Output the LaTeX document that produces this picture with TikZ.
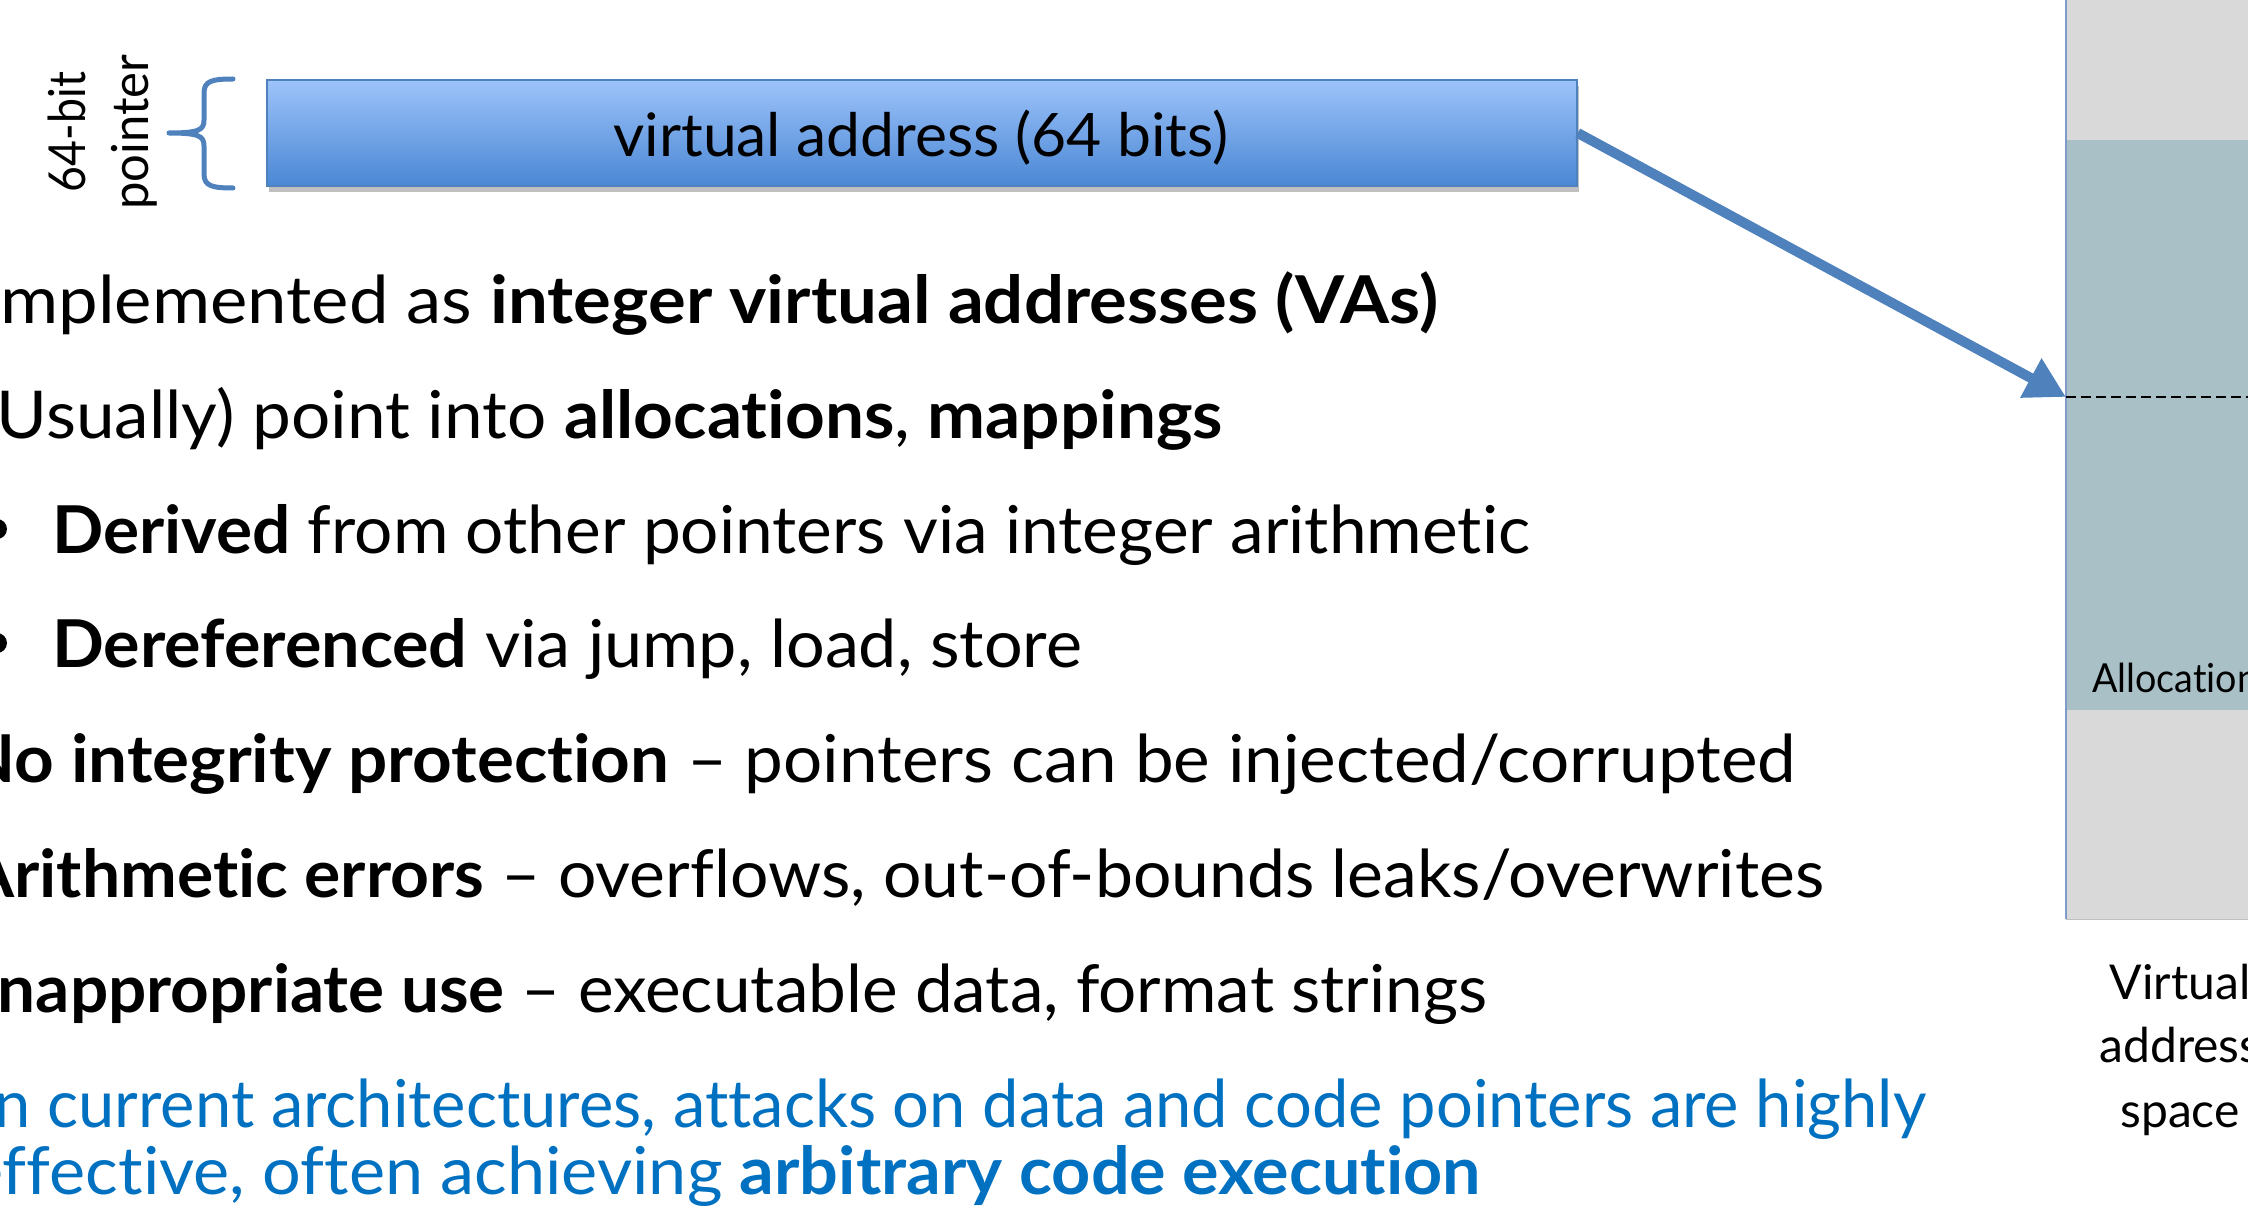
\documentclass[tikz,border=0pt]{standalone}
\usepackage{fontspec}
\setmainfont{Lato}[Ligatures={NoCommon,NoRequired,NoContextual}]
\usepackage{graphicx}
\usetikzlibrary{arrows.meta,shadows}

\definecolor{boxtop}{HTML}{9DC3FA}
\definecolor{boxbot}{HTML}{4A87D4}
\definecolor{boxedge}{HTML}{4F81BD}
\definecolor{arrowblue}{HTML}{4F81BD}
\definecolor{memgray}{HTML}{D9D9D9}
\definecolor{allocteal}{HTML}{A9C0C6}
\definecolor{coledge}{HTML}{7F9BC8}
\definecolor{accent}{HTML}{0070C0}

% stretch a line of text to a given width, keeping its height
\newcommand\fitw[2]{\resizebox{#1}{\height}{#2}}

\begin{document}
\begin{tikzpicture}[x=1pt,y=-1pt,
  body/.style={anchor=base west, inner sep=0pt, font=\fontsize{66}{79}\selectfont},
  vabox/.style={draw=boxedge, line width=1.5pt, top color=boxtop, bottom color=boxbot,
    minimum width=1310pt, minimum height=106pt, inner sep=0pt,
    drop shadow={shadow xshift=2pt, shadow yshift=-6pt, opacity=0.25, fill=black}},
  sidelabel/.style={rotate=90, anchor=base, inner sep=0pt, font=\fontsize{51}{60}\selectfont},
  bracestyle/.style={draw=boxedge, line width=5pt, line cap=round, line join=round},
  ptrarrow/.style={draw=arrowblue, line width=10pt, -{Triangle[length=40pt,width=42pt]}},
  bulletdot/.style={circle, fill=black, inner sep=0pt, minimum size=20pt},
  memcol/.style={fill=memgray, draw=none, inner sep=0pt, anchor=north west},
  allocband/.style={fill=allocteal, draw=none, inner sep=0pt, anchor=north west},
]
\useasboundingbox (0,0) rectangle (2248,1209);
\clip (0,0) rectangle (2248,1209);

% virtual address space column
\node[memcol, minimum width=240pt, minimum height=930pt] (vas) at (2066,-11) {};
\node[allocband, minimum width=240pt, minimum height=570pt] (alloc) at (2066,140) {};
\draw[coledge, line width=2pt] (vas.north west) -- (vas.south west);
\draw[black!25, line width=1.5pt] (vas.south west) -- (vas.south east);
\node[anchor=base west, inner sep=0pt, font=\fontsize{40}{48}\selectfont] (alabel) at (2092,692) {\fitw{166pt}{Allocation}};
\node[anchor=base, inner sep=0pt, font=\fontsize{48}{60}\selectfont] (vas1) at (2180,999) {Virtual};
\node[anchor=base, inner sep=0pt, font=\fontsize{48}{60}\selectfont] (vas2) at (2180,1062) {address};
\node[anchor=base, inner sep=0pt, font=\fontsize{48}{60}\selectfont] (vas3) at (2180,1127) {space};

% the pointer value
\node[vabox] (vbox) at (922,133) {};
\node[anchor=base, inner sep=0pt, font=\fontsize{60}{70}\selectfont] (vlabel) at (921,157)
  {\fitw{615pt}{virtual address (64 bits)}};

% brace and its label
\node[sidelabel] (lab1) at (85,132) {\fitw{120pt}{64-bit}};
\node[sidelabel] (lab2) at (148,132) {\fitw{155pt}{pointer}};
\draw[bracestyle] (233,79) .. controls (212,79) and (204,81) .. (204,93)
  -- (204,120) .. controls (204,130) and (199,133) .. (169,133)
  .. controls (199,133) and (204,136) .. (204,146)
  -- (204,174) .. controls (204,186) and (212,188) .. (233,188);

% where the pointer lands
\coordinate (tip) at (2066,397);
\draw[ptrarrow] (vbox.east) -- (tip);
\draw[black, line width=2pt, dash pattern=on 10pt off 5pt] (tip) -- (tip -| vas.east);

% bullet text
\node[body] (l1) at (-19,323) {\fitw{1457pt}{Implemented as \textbf{integer virtual addresses (VAs)}}};
\node[body] (l2) at (-22,438) {\fitw{1245pt}{(Usually) point into \textbf{allocations}, \textbf{mappings}}};
\node[bulletdot] (b3) at (-3,529) {};
\node[body] (l3) at (52,553) {\fitw{1478pt}{\textbf{Derived} from other pointers via integer arithmetic}};
\node[bulletdot] (b4) at (-3,643) {};
\node[body] (l4) at (52,667) {\fitw{1030pt}{\textbf{Dereferenced} via jump, load, store}};
\node[body] (l5) at (-38,782) {\fitw{1834pt}{\textbf{No integrity protection} – pointers can be injected/corrupted}};
\node[body] (l6) at (-33,897) {\fitw{1857pt}{\textbf{Arithmetic errors} – overflows, out-of-bounds leaks/overwrites}};
\node[body] (l7) at (-22,1012) {\fitw{1509pt}{\textbf{Inappropriate use} – executable data, format strings}};
\node[body, text=accent] (l8) at (-57,1127) {\fitw{1983pt}{On current architectures, attacks on data and code pointers are highly}};
\node[body, text=accent] (l9) at (-33,1194) {\fitw{1514pt}{effective, often achieving \textbf{arbitrary code execution}}};
\end{tikzpicture}
\end{document}
